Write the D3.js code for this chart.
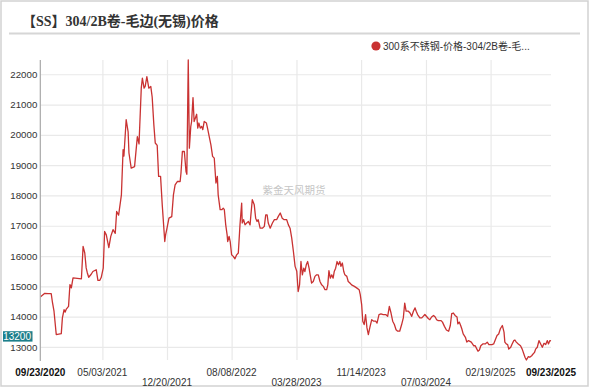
<!DOCTYPE html>
<html><head><meta charset="utf-8">
<script src="https://cdn.jsdelivr.net/npm/d3@7"></script>
<style>html,body{margin:0;padding:0;background:#fff;} svg{display:block;}</style>
</head><body><svg id="c" width="590" height="388"></svg>
<script>
const title = "【SS】304/2B卷-毛边(无锡)价格";
const seriesName = "300系不锈钢-价格-304/2B卷-毛...";
const watermark = "紫金天风期货";
const lastLabel = "13200";

const dates = [
"2020-09-23","2020-10-09","2020-10-21","2020-11-01","2020-11-05","2020-11-11","2020-11-19","2020-12-07","2020-12-11","2020-12-17",
"2020-12-21","2020-12-25","2021-01-02","2021-01-07","2021-01-12","2021-01-18","2021-02-17","2021-02-23","2021-03-01","2021-03-06",
"2021-03-10","2021-03-15","2021-03-24","2021-03-30","2021-04-11","2021-04-17","2021-04-24","2021-04-29","2021-05-06","2021-05-11",
"2021-05-17","2021-05-26","2021-06-02","2021-06-10","2021-06-18","2021-06-23","2021-06-30","2021-07-10","2021-07-16","2021-07-19",
"2021-07-27","2021-08-03","2021-08-06","2021-08-14","2021-08-26","2021-09-05","2021-09-11","2021-09-19","2021-09-23","2021-09-29",
"2021-10-03","2021-10-09","2021-10-16","2021-10-23","2021-10-28","2021-11-03","2021-11-08","2021-11-15","2021-11-20","2021-11-27",
"2021-12-03","2021-12-12","2021-12-15","2021-12-19","2021-12-27","2022-01-06","2022-01-12","2022-01-18","2022-01-26","2022-02-05",
"2022-02-08","2022-02-13","2022-02-20","2022-02-26","2022-03-01","2022-03-06","2022-03-10","2022-03-15","2022-03-18","2022-03-23",
"2022-03-27","2022-04-02","2022-04-05","2022-04-09","2022-04-13","2022-04-18","2022-04-23","2022-04-27","2022-05-02","2022-05-10",
"2022-05-15","2022-05-20","2022-05-26","2022-06-01","2022-06-07","2022-06-13","2022-06-18","2022-06-21","2022-06-28","2022-07-04",
"2022-07-09","2022-07-13","2022-07-18","2022-07-23","2022-07-25","2022-07-30","2022-08-03","2022-08-08","2022-08-14","2022-08-20",
"2022-08-26","2022-09-01","2022-09-07","2022-09-13","2022-09-15","2022-09-20","2022-09-25","2022-10-01","2022-10-07","2022-10-13",
"2022-10-16","2022-10-21","2022-10-28","2022-11-02","2022-11-07","2022-11-11","2022-11-18","2022-11-26","2022-12-03","2022-12-08",
"2022-12-13","2022-12-17","2022-12-24","2023-01-01","2023-01-08","2023-01-16","2023-01-22","2023-01-29","2023-02-05","2023-02-12",
"2023-02-21","2023-02-27","2023-03-05","2023-03-11","2023-03-17","2023-03-23","2023-03-29","2023-04-03","2023-04-08","2023-04-13",
"2023-04-18","2023-04-23","2023-04-27","2023-05-02","2023-05-07","2023-05-12","2023-05-16","2023-05-21","2023-05-27","2023-06-02",
"2023-06-08","2023-06-14","2023-06-20","2023-06-26","2023-07-02","2023-07-08","2023-07-14","2023-07-18","2023-07-22","2023-07-27",
"2023-08-01","2023-08-06","2023-08-10","2023-08-15","2023-08-20","2023-08-25","2023-08-30","2023-09-03","2023-09-08","2023-09-13",
"2023-09-17","2023-09-24","2023-09-29","2023-10-05","2023-10-11","2023-10-21","2023-10-29","2023-11-07","2023-11-11","2023-11-16",
"2023-11-20","2023-11-25","2023-11-30","2023-12-05","2023-12-10","2023-12-15","2023-12-22","2023-12-29","2024-01-05","2024-01-10",
"2024-01-17","2024-01-24","2024-02-01","2024-02-10","2024-02-17","2024-02-23","2024-02-29","2024-03-06","2024-03-12","2024-03-18",
"2024-03-24","2024-03-31","2024-04-07","2024-04-13","2024-04-18","2024-04-23","2024-05-01","2024-05-07","2024-05-13","2024-05-19",
"2024-05-25","2024-05-29","2024-06-03","2024-06-11","2024-06-18","2024-06-23","2024-06-29","2024-07-12","2024-07-17","2024-07-23",
"2024-07-30","2024-08-05","2024-08-10","2024-08-16","2024-08-26","2024-08-31","2024-09-07","2024-09-14","2024-09-22","2024-09-28",
"2024-10-03","2024-10-09","2024-10-15","2024-10-22","2024-10-25","2024-10-30","2024-11-04","2024-11-08","2024-11-13","2024-11-21",
"2024-11-26","2024-12-02","2024-12-12","2024-12-21","2024-12-26","2025-01-01","2025-01-05","2025-01-10","2025-01-15","2025-01-22",
"2025-01-31","2025-02-07","2025-02-13","2025-02-24","2025-03-02","2025-03-09","2025-03-14","2025-03-20","2025-03-26","2025-04-02",
"2025-04-08","2025-04-11","2025-04-16","2025-04-21","2025-04-25","2025-05-02","2025-05-07","2025-05-13","2025-05-17","2025-05-22",
"2025-05-29","2025-06-06","2025-06-12","2025-06-18","2025-06-22","2025-06-27","2025-07-04","2025-07-09","2025-07-16","2025-07-21",
"2025-07-26","2025-07-30","2025-08-05","2025-08-11","2025-08-18","2025-08-23","2025-08-29","2025-09-04","2025-09-10","2025-09-14",
"2025-09-19","2025-09-23"];

const values = [
14650,14770,14760,14760,14500,14180,13410,13440,13960,14230,
14150,14250,14340,15060,14950,15280,15250,16320,16100,15610,
15450,15300,15400,15490,15550,15200,15200,15300,15600,16810,
16700,16280,16650,16870,16750,17470,17350,18020,19510,19300,
20500,20100,19400,18900,18950,19940,19700,21540,21870,21540,
21600,21920,21540,21600,21250,20330,19730,19650,18630,18630,
17690,16480,16700,16870,17250,17300,18020,18350,18460,18460,
18740,19450,19450,18790,18700,22470,19560,20270,20440,21230,
20440,20600,20680,20220,20390,20220,20280,20170,20440,20390,
20170,19940,19670,19290,19230,18410,18630,18020,17530,17530,
17580,17530,17030,16700,16480,16650,16480,16040,15990,15910,
16040,16100,17030,17750,17090,17200,17030,17090,17140,17030,
17360,17860,17690,17250,17140,17200,16920,16920,16980,17360,
17360,17090,16920,17090,17200,17200,17310,17420,17250,17200,
17200,17030,16920,16590,16150,15660,15500,14830,15050,15820,
15380,15600,15490,15710,15820,15600,15380,15110,15160,15330,
15380,15380,15160,15050,15000,14890,14890,15050,15520,15270,
15380,15270,15490,15600,15820,15710,15820,15660,15770,15490,
15380,15330,15160,15110,15050,15000,14950,14890,14730,14400,
13850,13740,14070,13630,13410,13630,13900,13850,13850,13790,
14070,14090,14070,14070,14010,14340,14120,13850,13740,13570,
13520,13520,13740,13960,14450,14180,14180,14120,14010,14180,
14290,14180,14070,13960,13960,14010,14070,13930,13900,13990,
14040,13990,13900,13870,13870,13820,13680,13560,13520,13710,
14100,14120,14040,13990,13760,13820,13710,13600,13430,13320,
13160,13210,13160,13040,13040,12930,12860,12900,13040,13100,
13100,13160,13080,13080,13100,13260,13380,13430,13600,13710,
13490,13160,13100,13080,12930,12990,13100,13210,13230,13160,
13100,13040,12930,12770,12660,12570,12680,12660,12710,12770,
12820,12930,12990,13210,13080,12990,13120,13080,13210,13100,
13210,13200];

const xTickDates = ["2020-09-23","2021-05-03","2021-12-20","2022-08-08","2023-03-28","2023-11-14","2024-07-03","2025-02-19","2025-09-23"];
const xTickRow   = [0,0,1,0,1,0,1,0,0];
const yTicks = [13000,14000,15000,16000,17000,18000,19000,20000,21000,22000];

const RED = "#c93232";
const SANS = "'Liberation Sans', Arial, 'Noto Sans CJK SC', sans-serif";
const M = {l:40.3, r:551, t:60, b:360};

const parse = d3.timeParse("%Y-%m-%d");
const fmt = d3.timeFormat("%m/%d/%Y");
const data = dates.map((d,i)=>({date:parse(d), value:values[i]}));
const tickDates = xTickDates.map(parse);

const x = d3.scaleTime().domain([tickDates[0], tickDates[tickDates.length-1]]).range([M.l, M.r]);
const y = d3.scaleLinear().domain(d3.extent(values)).range([M.b, M.t]);

const svg = d3.select("#c");

svg.append("rect").attr("x",1).attr("y",1).attr("width",587).attr("height",385)
  .attr("fill","#fff").attr("stroke","#d2d2d2").attr("stroke-width",1.5);

svg.append("text").attr("x",22).attr("y",26).text(title)
  .attr("font-family","'Liberation Serif','Noto Sans CJK SC',serif")
  .attr("font-weight","bold").attr("font-size",14).attr("fill","#333");
svg.append("line").attr("x1",9).attr("x2",580).attr("y1",33.5).attr("y2",33.5)
  .attr("stroke","#d6d6d6").attr("stroke-width",2);

svg.append("circle").attr("cx",376).attr("cy",46).attr("r",4.6).attr("fill",RED);
svg.append("text").attr("x",383).attr("y",49.5).text(seriesName)
  .attr("font-family",SANS).attr("font-size",10).attr("fill","#333");

// horizontal grid
const gy = svg.append("g").attr("transform",`translate(${M.l},0)`)
  .call(d3.axisLeft(y).tickValues(yTicks).tickSize(-(M.r-M.l)).tickFormat(""));
gy.select(".domain").remove();
gy.selectAll("line").attr("stroke","#e9e9e9").attr("stroke-width",1.2);

// vertical grid
const gx = svg.append("g").attr("transform",`translate(0,${M.b})`)
  .call(d3.axisBottom(x).tickValues(tickDates.slice(1,-1)).tickSize(-(M.b-M.t)).tickFormat(""));
gx.select(".domain").remove();
gx.selectAll("line").attr("stroke","#e9e9e9").attr("stroke-width",1.2);

svg.append("text").attr("x",294).attr("y",194).attr("text-anchor","middle").text(watermark)
  .attr("font-family","'Noto Sans CJK SC',sans-serif").attr("font-size",10.5).attr("fill","#c6c6c6");

svg.append("path").datum(data)
  .attr("d", d3.line().x(d=>x(d.date)).y(d=>y(d.value)))
  .attr("fill","none").attr("stroke",RED).attr("stroke-width",1.3).attr("stroke-linejoin","round");

// y axis line
svg.append("line").attr("x1",M.l).attr("x2",M.l).attr("y1",M.t).attr("y2",M.b+1)
  .attr("stroke","#a8a8a8").attr("stroke-width",1.2);

// y labels
const yl = svg.append("g").attr("transform",`translate(${M.l},0)`)
  .call(d3.axisLeft(y).tickValues(yTicks).tickSize(0).tickPadding(3).tickFormat(d3.format("d")));
yl.select(".domain").remove();
yl.selectAll("text").attr("font-family",SANS).attr("font-size",9.7).attr("fill","#333");

// x labels
svg.append("g").selectAll("text").data(tickDates).join("text")
  .attr("x", d=>x(d))
  .attr("y", (d,i)=> xTickRow[i] ? 385.5 : 375.5)
  .attr("text-anchor","middle")
  .attr("font-family",SANS).attr("font-size",10)
  .attr("font-weight",(d,i)=> (i===0||i===tickDates.length-1) ? "bold" : "normal")
  .attr("fill",(d,i)=> (i===0||i===tickDates.length-1) ? "#111" : "#333")
  .text(d=>fmt(d));

// last value box
const yLast = y(values[values.length-1]) - 4.5;
svg.append("rect").attr("x",3).attr("y",yLast-5.2).attr("width",29.5).attr("height",10.4).attr("fill","#1d7f8b");
svg.append("text").attr("x",31).attr("y",yLast+3.6).attr("text-anchor","end").text(lastLabel)
  .attr("font-family",SANS).attr("font-size",10).attr("fill","#fff");
</script>
</body></html>
